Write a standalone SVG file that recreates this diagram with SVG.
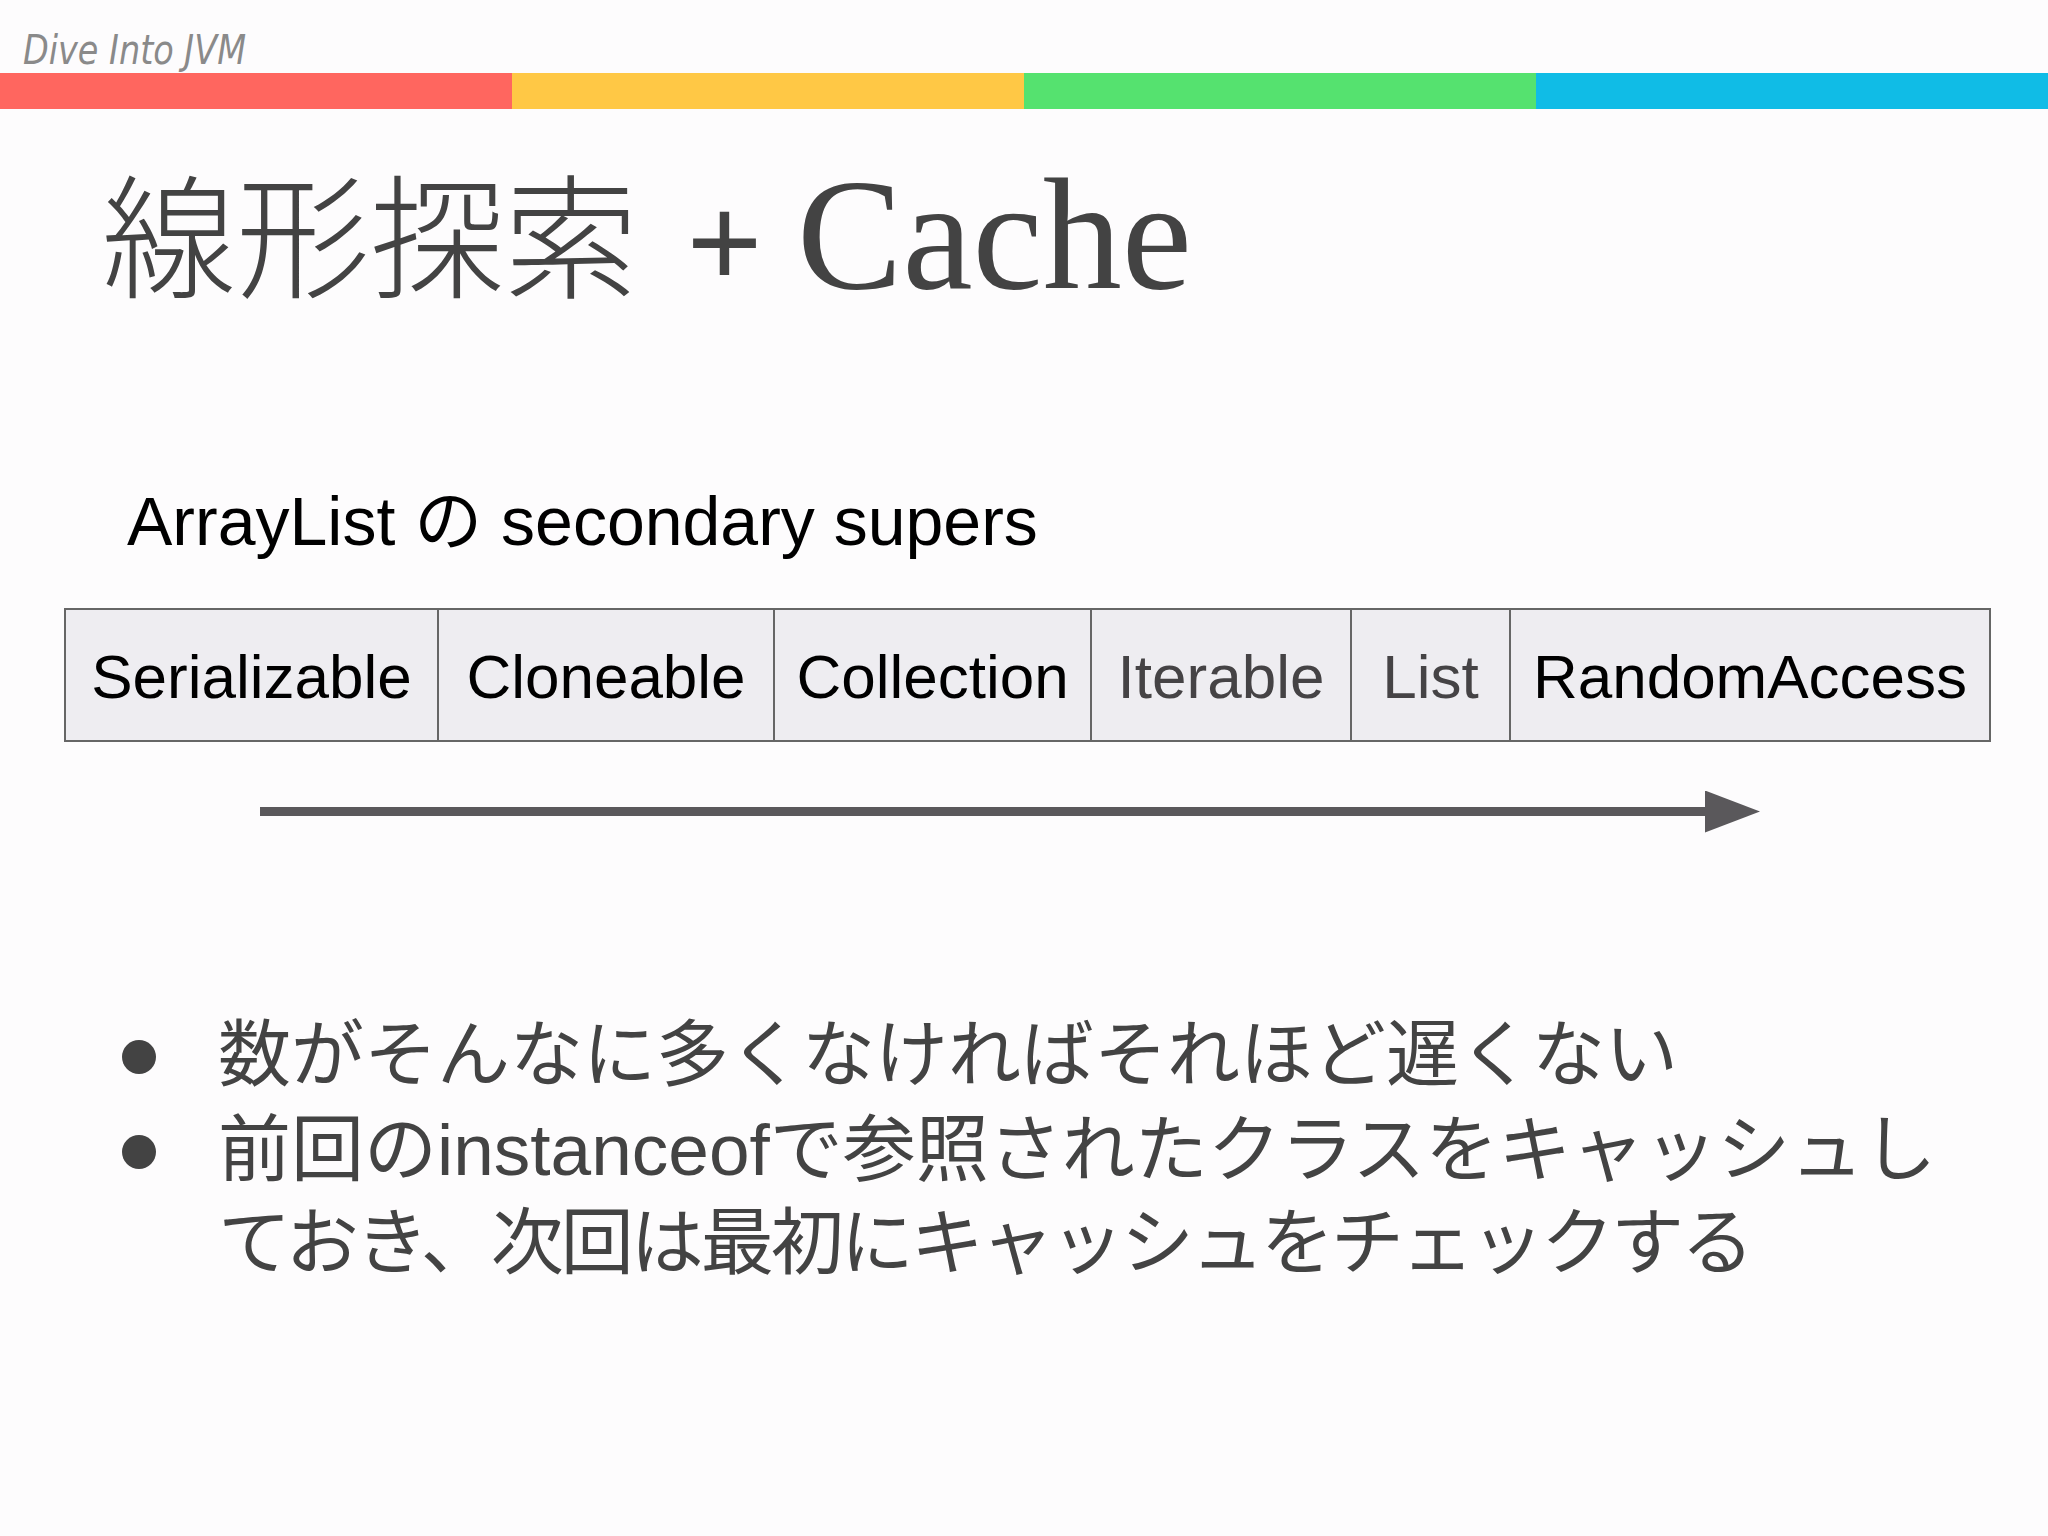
<svg xmlns="http://www.w3.org/2000/svg" width="2048" height="1536" viewBox="0 0 2048 1536">
<style>
.cell{fill:#eeedf1;stroke:#666;stroke-width:2}
.ct{font-family:"Liberation Sans",Arial,sans-serif;font-size:62px;text-anchor:middle;fill:#000}
.ct.g{fill:#454345}
.bl{font-family:"Liberation Sans","Noto Sans CJK JP",sans-serif;font-size:73px;fill:#434343}
</style>
<defs>
<marker id="ah" markerUnits="userSpaceOnUse" markerWidth="56" markerHeight="42" refX="0" refY="21" orient="auto">
<path d="M0,0 L55,21 L0,42 Z" fill="#5a585b"/>
</marker>
</defs>
<rect width="2048" height="1536" fill="#fdfcfd"/>
<g id="header">
<text x="23" y="64" font-family="DejaVu Sans" font-weight="200" font-style="italic" font-size="40" fill="#8a8a8a" textLength="223" lengthAdjust="spacingAndGlyphs">Dive Into JVM</text>
<rect x="0" y="73" width="512" height="36" fill="#ff665f"/>
<rect x="512" y="73" width="512" height="36" fill="#ffc845"/>
<rect x="1024" y="73" width="512" height="36" fill="#55e26f"/>
<rect x="1536" y="73" width="512" height="36" fill="#10bce6"/>
</g>
<g id="title">
<text y="288" fill="#434343"><tspan x="102" font-family="Noto Sans CJK JP,sans-serif" font-size="134" font-weight="300">線形探索</tspan><tspan x="686" font-family="Liberation Serif,serif" font-size="135" font-weight="bold">+</tspan><tspan x="797" font-family="Liberation Serif,serif" font-size="158">Cache</tspan></text>
</g>
<g id="subtitle">
<text x="127" y="545" font-family="Liberation Sans,Noto Sans CJK JP,sans-serif" font-size="68" fill="#000">ArrayList の secondary supers</text>
</g>
<g id="cell-serializable"><rect class="cell" x="65" y="609" width="373" height="132"/><text class="ct" x="251.5" y="698">Serializable</text></g>
<g id="cell-cloneable"><rect class="cell" x="438" y="609" width="336" height="132"/><text class="ct" x="606" y="698">Cloneable</text></g>
<g id="cell-collection"><rect class="cell" x="774" y="609" width="317" height="132"/><text class="ct" x="932.5" y="698">Collection</text></g>
<g id="cell-iterable"><rect class="cell" x="1091" y="609" width="260" height="132"/><text class="ct g" x="1221" y="698">Iterable</text></g>
<g id="cell-list"><rect class="cell" x="1351" y="609" width="159" height="132"/><text class="ct g" x="1430.5" y="698">List</text></g>
<g id="cell-randomaccess"><rect class="cell" x="1510" y="609" width="480" height="132"/><text class="ct" x="1750" y="698">RandomAccess</text></g>
<g id="connectors">
<line x1="260" y1="811.5" x2="1705" y2="811.5" stroke="#5a585b" stroke-width="9" marker-end="url(#ah)"/>
</g>
<g id="bullets">
<circle cx="139" cy="1057" r="17" fill="#434343"/>
<circle cx="139" cy="1152" r="17" fill="#434343"/>
<text class="bl" x="218" y="1080">数がそんなに多くなければそれほど遅くない</text>
<text class="bl" x="218" y="1175">前回のinstanceofで参照されたクラスをキャッシュし</text>
<text class="bl" x="218" y="1268" textLength="1536" lengthAdjust="spacing">ておき、次回は最初にキャッシュをチェックする</text>
</g>
</svg>
